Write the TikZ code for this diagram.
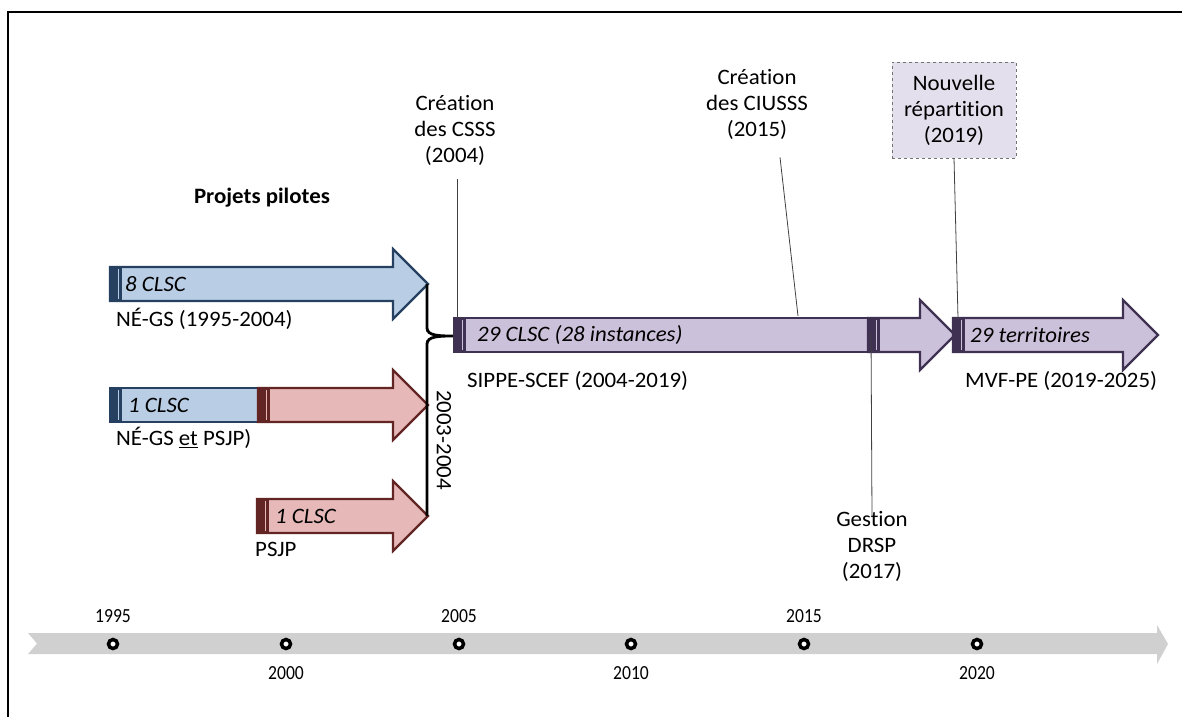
\documentclass[tikz,border=0pt]{standalone}
\usepackage{fontspec}
\setmainfont{Carlito}[Ligatures={NoCommon,NoRare}, FakeStretch=1.04]
\newfontfamily\yearfont{Carlito}[Ligatures={NoCommon,NoRare}, FakeStretch=0.88]
\usetikzlibrary{positioning}

\definecolor{blueFill}{HTML}{B9CDE5}
\definecolor{blueLine}{HTML}{254061}
\definecolor{redFill}{HTML}{E6B9B8}
\definecolor{redLine}{HTML}{632523}
\definecolor{violetFill}{HTML}{CCC1DA}
\definecolor{violetLine}{HTML}{3F3151}
\definecolor{noteFill}{HTML}{E4DFEC}
\definecolor{axisGray}{HTML}{D0D0D0}

% arrow with head: left x, head x, tip x, middle y, fill, line
\newcommand{\flowarrow}[6]{%
  \draw[#6, fill=#5, line width=2.2pt] (#1,#4-17) -- (#2,#4-17) -- (#2,#4-35) -- (#3,#4)
    -- (#2,#4+35) -- (#2,#4+17) -- (#1,#4+17) -- cycle;
  \fill[#6] (#1,#4-17) rectangle (#1+12,#4+17);
  \draw[#5, line width=0.6pt] (#1+8,#4-15) -- (#1+8,#4+15);
}
% plain bar: left x, right x, middle y, fill, line
\newcommand{\flowbar}[5]{%
  \draw[#5, fill=#4, line width=2.2pt] (#1,#3-17) rectangle (#2,#3+17);
  \fill[#5] (#1,#3-17) rectangle (#1+12,#3+17);
  \draw[#4, line width=0.6pt] (#1+8,#3-15) -- (#1+8,#3+15);
}

\tikzset{
  txt/.style={inner sep=0pt, anchor=west},
  note/.style={inner sep=0pt, align=center},
  callout/.style={draw=black!75, line width=0.8pt},
  tick/.style={circle, draw, line width=3.5pt, fill=white, minimum size=9pt, inner sep=0pt},
  year/.style={inner sep=0pt, font=\yearfont\fontsize{20}{22}\selectfont}
}

\begin{document}
\begin{tikzpicture}[x=1pt, y=-1pt, font=\fontsize{22}{26}\selectfont]
\useasboundingbox (0,0) rectangle (1182,717);
\draw[line width=2.5pt] (8,717) -- (8,12) -- (1182,12);

% projets pilotes
\node[font=\bfseries\fontsize{22}{26}\selectfont] (pilotes) at (262,198) {Projets pilotes};
\flowarrow{110}{393}{428}{284}{blueFill}{blueLine}
\flowbar{110}{258}{405}{blueFill}{blueLine}
\flowarrow{258}{393}{428}{405}{redFill}{redLine}
\flowarrow{257}{393}{428}{516}{redFill}{redLine}
\node[txt] (negs) at (125,284) {\itshape 8 CLSC};
\node[txt] (negs-lbl) at (116,319) {NÉ-GS (1995-2004)};
\node[txt] (both) at (128,405) {\itshape 1 CLSC};
\node[txt] (both-lbl) at (116,438) {NÉ-GS \underline{et} PSJP)};
\node[txt] (psjp) at (275,516) {\itshape 1 CLSC};
\node[txt] (psjp-lbl) at (255,549) {PSJP};

% regroupement
\coordinate (negs-tip) at (427,284);
\coordinate (psjp-tip) at (427,516);
\coordinate (sippe-w) at (454,336);
\draw[line width=2.8pt] (negs-tip) -- (427,328) .. controls (427,336) and (440,336) .. (sippe-w)
  .. controls (440,336) and (427,336) .. (427,344) -- (psjp-tip);
\node[rotate=-90, inner sep=0pt] (annees) at (444,440) {2003-2004};

% SIPPE-SCEF et MVF-PE
\flowbar{454}{870}{335}{violetFill}{violetLine}
\flowarrow{868}{920}{955}{335}{violetFill}{violetLine}
\flowarrow{953}{1123}{1158}{335}{violetFill}{violetLine}
\node[txt] (sippe) at (477,335) {\itshape 29 CLSC (28 instances)};
\node[txt] (sippe-lbl) at (467,381) {SIPPE-SCEF (2004-2019)};
\node[txt] (mvf) at (970,335) {\itshape 29 territoires};
\node[txt] (mvf-lbl) at (965,381) {MVF-PE (2019-2025)};

% evenements
\node[note] (csss) at (455,130) {Création\\des CSSS\\(2004)};
\coordinate (csss-pt) at (457,318);
\draw[callout] ([shift={(2,14)}]csss.south) -- (csss-pt);
\node[note] (ciusss) at (757,104) {Création\\des CIUSSS\\(2015)};
\coordinate (ciusss-pt) at (798,316);
\draw[callout] ([shift={(23,18)}]ciusss.south) -- (ciusss-pt);
\node[note, draw=black!55, dashed, fill=noteFill, minimum width=124pt, minimum height=96pt] (repart) at (954,110)
  {Nouvelle\\répartition\\(2019)};
\coordinate (repart-pt) at (958,318);
\draw[callout] (repart.south) -- (repart-pt);
\node[note] (drsp) at (872,546) {Gestion\\DRSP\\(2017)};
\coordinate (drsp-pt) at (871,333);
\draw[callout] (drsp-pt) -- ([yshift=-6pt]drsp.north);

% ligne du temps
\fill[axisGray] (28,633) -- (1157,633) -- (1157,625) -- (1168,644) -- (1157,664) -- (1157,654)
  -- (28,654) -- (37,643.5) -- cycle;
\node[tick] (t1995) at (113,644) {};
\node[tick] (t2000) at (286,644) {};
\node[tick] (t2005) at (459,644) {};
\node[tick] (t2010) at (631,644) {};
\node[tick] (t2015) at (804,644) {};
\node[tick] (t2020) at (977,644) {};
\node[year, above=15pt of t1995] {1995};
\node[year, below=16pt of t2000] {2000};
\node[year, above=15pt of t2005] {2005};
\node[year, below=16pt of t2010] {2010};
\node[year, above=15pt of t2015] {2015};
\node[year, below=16pt of t2020] {2020};
\end{tikzpicture}
\end{document}
